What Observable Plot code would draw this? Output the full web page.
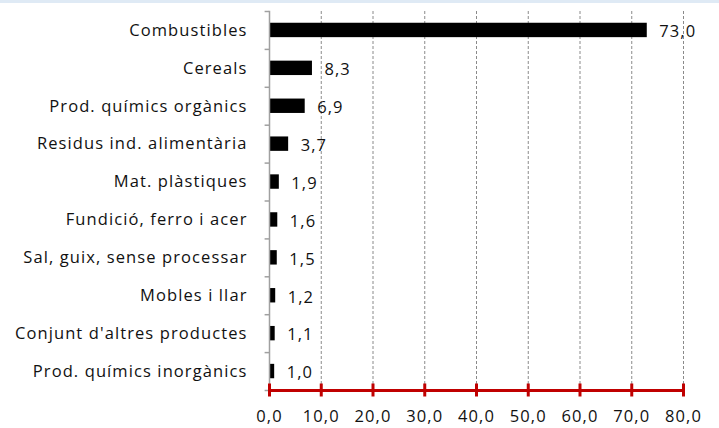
<!DOCTYPE html>
<html>
<head>
<meta charset="utf-8">
<script src="https://cdn.jsdelivr.net/npm/d3@7"></script>
<script src="https://cdn.jsdelivr.net/npm/@observablehq/plot@0.6"></script>
<style>
  html, body { margin: 0; padding: 0; background: #fff; }
  #wrap { position: relative; width: 719px; height: 428px; }
  #topline { position: absolute; left: 0; top: 0; width: 719px; height: 3px; background: #dfeaf5; }
  svg { display: block; }
  svg text { letter-spacing: 1.1px; }
</style>
</head>
<body>
<div id="wrap"><div id="topline"></div><div id="chart"></div></div>
<script>
const categories = [
  "Combustibles",
  "Cereals",
  "Prod. químics orgànics",
  "Residus ind. alimentària",
  "Mat. plàstiques",
  "Fundició, ferro i acer",
  "Sal, guix, sense processar",
  "Mobles i llar",
  "Conjunt d'altres productes",
  "Prod. químics inorgànics"
];
const values = [73.0, 8.3, 6.9, 3.7, 1.9, 1.6, 1.5, 1.2, 1.1, 1.0];
const xTicks = [0, 10, 20, 30, 40, 50, 60, 70, 80];

const data = categories.map((c, i) => ({cat: c, val: values[i]}));
const fmt = d => d.toFixed(1).replace(".", ",");

const W = 719, H = 428, mT = 11, mB = 38, mL = 269, mR = 36;
const step = (H - mT - mB) / categories.length;
const red = "#c00000";
const grey = "#a0a0a0";

const chart = Plot.plot({
  width: W,
  height: H,
  marginTop: mT,
  marginBottom: mB,
  marginLeft: mL,
  marginRight: mR,
  style: {fontFamily: "'Open Sans', sans-serif", fontSize: "16.5px", color: "#111", background: "transparent"},
  x: {domain: [0, 80]},
  y: {domain: categories, paddingInner: 0.62, paddingOuter: 0.31, round: false},
  marks: [
    Plot.gridX(xTicks.slice(1), {stroke: "#8a8a8a", strokeOpacity: 1, strokeDasharray: "3,2"}),
    Plot.barX(data, {x: "val", y: "cat", fill: "#000"}),
    Plot.text(data, {x: "val", y: "cat", text: d => fmt(d.val), textAnchor: "start", dx: 12, dy: 1.5, fill: "#111", fontSize: 16.5}),
    Plot.frame({anchor: "left", stroke: grey, strokeWidth: 1.5}),
    Plot.ruleY(categories, {y: d => d, dy: -step / 2, x1: -0.85, x2: 0, stroke: grey, strokeWidth: 1.5}),
    Plot.ruleY(categories.slice(-1), {y: d => d, dy: step / 2, x1: -0.85, x2: 0, stroke: grey, strokeWidth: 1.5}),
    Plot.axisY({tickSize: 0, tickPadding: 22, fontSize: 16.5, label: null, fill: "#111"}),
    Plot.frame({anchor: "bottom", stroke: red, strokeWidth: 3}),
    Plot.axisX(xTicks, {tickSize: 13, dy: -6.5, stroke: red, strokeWidth: 3, tickFormat: () => "", label: null}),
    Plot.axisX(xTicks, {tickSize: 0, tickPadding: 20, tickFormat: fmt, fontSize: 16.5, fill: "#111", label: null})
  ]
});
document.getElementById("chart").appendChild(chart);
</script>
</body>
</html>
